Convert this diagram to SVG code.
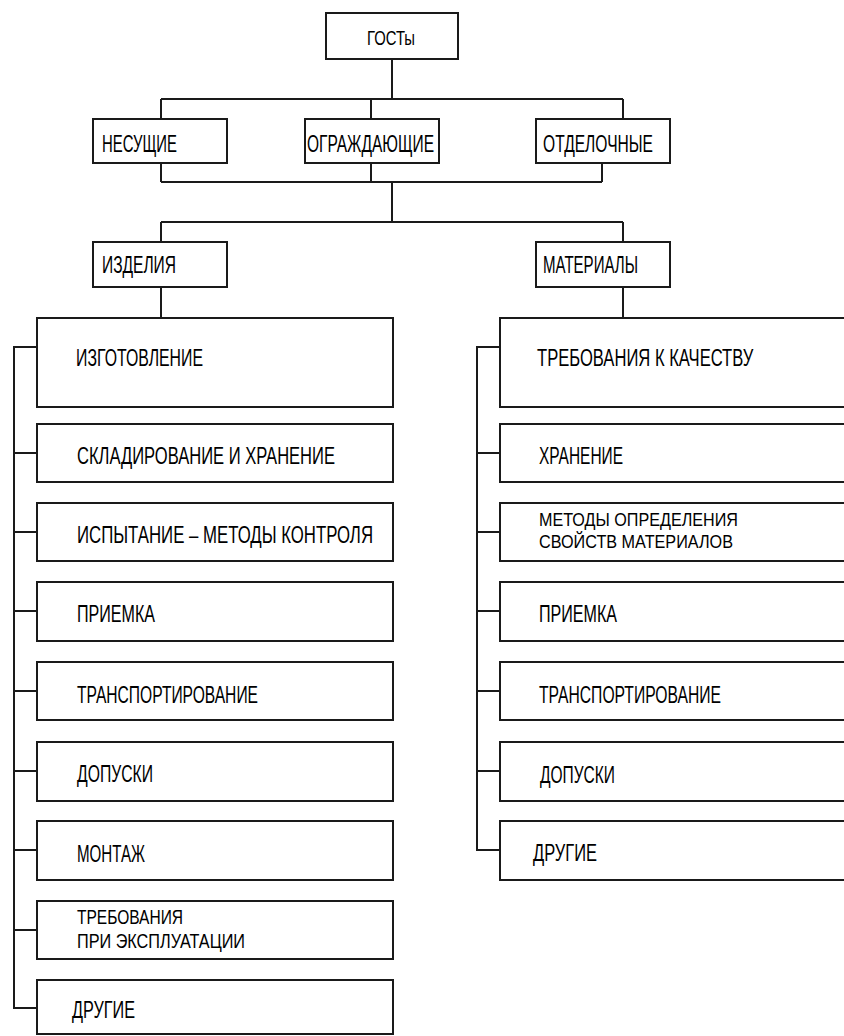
<svg xmlns="http://www.w3.org/2000/svg" width="844" height="1036" viewBox="0 0 844 1036">
<style>
.b{fill:#fff;stroke:#1a1a1a;stroke-width:2}
.c{fill:none;stroke:#1a1a1a;stroke-width:2}
text{font-family:"Liberation Sans","DejaVu Sans",sans-serif;font-size:24px;fill:#000}
.s{font-size:21px}
.t{font-size:19px}
</style>
<rect width="844" height="1036" fill="#fff"/>
<g id="connectors">
<path class="c" d="M392 59V99M161 99H623M161 99V119M371 99V119M623 99V119"/>
<path class="c" d="M161 163V182M371 163V182M602 163V182M161 182H602M392 182V222M161 222H623M161 222V242M623 222V242"/>
<path class="c" d="M161 287V318M623 287V318"/>
<path class="c" d="M37 347H14V1008H37M14 453H37M14 532H37M14 611H37M14 691H37M14 771H37M14 850H37M14 930H37"/>
<path class="c" d="M500 347H477V850H500M477 453H500M477 532H500M477 611H500M477 691H500M477 771H500"/>
</g>
<g id="gosty"><rect class="b" x="326" y="13" width="132" height="46"/><text class="s" x="367" y="45" textLength="48" lengthAdjust="spacingAndGlyphs">ГОСТы</text></g>
<g id="nesushchie"><rect class="b" x="93" y="119" width="134" height="44"/><text x="102" y="152" textLength="75" lengthAdjust="spacingAndGlyphs">НЕСУЩИЕ</text></g>
<g id="ograzhdayushchie"><rect class="b" x="305" y="119" width="134" height="44"/><text x="307" y="152" textLength="127" lengthAdjust="spacingAndGlyphs">ОГРАЖДАЮЩИЕ</text></g>
<g id="otdelochnye"><rect class="b" x="536" y="119" width="134" height="44"/><text x="543" y="152" textLength="110" lengthAdjust="spacingAndGlyphs">ОТДЕЛОЧНЫЕ</text></g>
<g id="izdeliya"><rect class="b" x="93" y="242" width="134" height="45"/><text x="102" y="273" textLength="74" lengthAdjust="spacingAndGlyphs">ИЗДЕЛИЯ</text></g>
<g id="materialy"><rect class="b" x="536" y="242" width="134" height="45"/><text x="543" y="273" textLength="95" lengthAdjust="spacingAndGlyphs">МАТЕРИАЛЫ</text></g>
<g id="l1"><rect class="b" x="37" y="318" width="356" height="89"/><text x="76" y="366" textLength="127" lengthAdjust="spacingAndGlyphs">ИЗГОТОВЛЕНИЕ</text></g>
<g id="l2"><rect class="b" x="37" y="424" width="356" height="58"/><text x="77" y="464" textLength="258" lengthAdjust="spacingAndGlyphs">СКЛАДИРОВАНИЕ  И  ХРАНЕНИЕ</text></g>
<g id="l3"><rect class="b" x="37" y="503" width="356" height="58"/><text x="77" y="543" textLength="296" lengthAdjust="spacingAndGlyphs">ИСПЫТАНИЕ  –  МЕТОДЫ  КОНТРОЛЯ</text></g>
<g id="l4"><rect class="b" x="37" y="582" width="356" height="59"/><text x="77" y="622" textLength="78" lengthAdjust="spacingAndGlyphs">ПРИЕМКА</text></g>
<g id="l5"><rect class="b" x="37" y="662" width="356" height="58"/><text x="77" y="703" textLength="181" lengthAdjust="spacingAndGlyphs">ТРАНСПОРТИРОВАНИЕ</text></g>
<g id="l6"><rect class="b" x="37" y="742" width="356" height="59"/><text x="77" y="782" textLength="76" lengthAdjust="spacingAndGlyphs">ДОПУСКИ</text></g>
<g id="l7"><rect class="b" x="37" y="821" width="356" height="59"/><text x="77" y="862" textLength="68" lengthAdjust="spacingAndGlyphs">МОНТАЖ</text></g>
<g id="l8"><rect class="b" x="37" y="901" width="356" height="58"/><text class="s" x="77" y="924" textLength="106" lengthAdjust="spacingAndGlyphs">ТРЕБОВАНИЯ</text><text class="s" x="77" y="948" textLength="168" lengthAdjust="spacingAndGlyphs">ПРИ  ЭКСПЛУАТАЦИИ</text></g>
<g id="l9"><rect class="b" x="37" y="980" width="356" height="54"/><text x="72" y="1018" textLength="63" lengthAdjust="spacingAndGlyphs">ДРУГИЕ</text></g>
<g id="r1"><path class="b" d="M844 318H500V407H844"/><text transform="translate(537 366) scale(0.7 1)" x="0" y="0" textLength="309" lengthAdjust="spacingAndGlyphs">ТРЕБОВАНИЯ  К  КАЧЕСТВУ</text></g>
<g id="r2"><path class="b" d="M844 424H500V482H844"/><text x="539" y="464" textLength="84" lengthAdjust="spacingAndGlyphs">ХРАНЕНИЕ</text></g>
<g id="r3"><path class="b" d="M844 503H500V561H844"/><text class="t" x="539" y="526" textLength="199" lengthAdjust="spacingAndGlyphs">МЕТОДЫ  ОПРЕДЕЛЕНИЯ</text><text class="t" x="539" y="548" textLength="194" lengthAdjust="spacingAndGlyphs">СВОЙСТВ  МАТЕРИАЛОВ</text></g>
<g id="r4"><path class="b" d="M844 582H500V641H844"/><text x="539" y="622" textLength="78" lengthAdjust="spacingAndGlyphs">ПРИЕМКА</text></g>
<g id="r5"><path class="b" d="M844 662H500V720H844"/><text x="539" y="703" textLength="182" lengthAdjust="spacingAndGlyphs">ТРАНСПОРТИРОВАНИЕ</text></g>
<g id="r6"><path class="b" d="M844 742H500V801H844"/><text x="540" y="783" textLength="75" lengthAdjust="spacingAndGlyphs">ДОПУСКИ</text></g>
<g id="r7"><path class="b" d="M844 821H500V880H844"/><text x="533" y="861" textLength="64" lengthAdjust="spacingAndGlyphs">ДРУГИЕ</text></g>
</svg>
